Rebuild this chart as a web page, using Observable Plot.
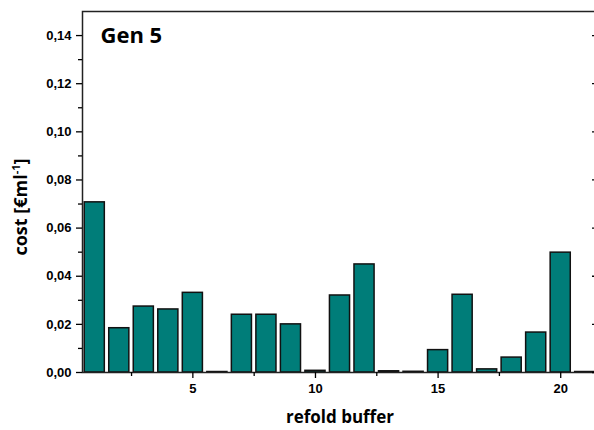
<!DOCTYPE html>
<html><head><meta charset="utf-8">
<script src="https://cdn.jsdelivr.net/npm/d3@7"></script>
<script src="https://cdn.jsdelivr.net/npm/@observablehq/plot@0.6"></script>
<style>
html,body{margin:0;padding:0;background:#fff;overflow:hidden;}
#chart svg{max-width:none !important;display:block;}
</style></head><body><div id="chart"></div>
<script>
const buffers = [1,2,3,4,5,6,7,8,9,10,11,12,13,14,15,16,17,18,19,20,21];
const costs = [0.0707,0.0184,0.0274,0.0262,0.0331,0.0002,0.0240,0.0240,0.0200,0.0007,0.0320,0.0449,0.0005,0.0003,0.0093,0.0323,0.0013,0.0062,0.0166,0.0498,0.0002];
const yMajorTicks = [0,0.02,0.04,0.06,0.08,0.10,0.12,0.14];
const yMinorTicks = [0.01,0.03,0.05,0.07,0.09,0.11,0.13];
const xMajorTicks = [5,10,15,20];
const xMinorTicks = [2.5,7.5,12.5,17.5];
const title = "Gen 5";
const xLabel = "refold buffer";
const yLabelMain = "cost [€ml";
const yLabelSup = "-1";
const yLabelEnd = "]";

const data = buffers.map((b,i)=>({buffer:b, cost:costs[i]}));
const fmt = d => d.toFixed(2).replace(".", ",");
const labelFont = "'Open Sans', 'DejaVu Sans', sans-serif";

const chart = Plot.plot({
  width: 600, height: 430,
  marginLeft: 82, marginRight: 3, marginTop: 11, marginBottom: 58,
  style: {fontFamily: "'Liberation Sans', Arial, sans-serif", fontSize: "13px", fontWeight: "bold", color: "#000", background: "#fff"},
  x: {domain: [0.5, 21.5]},
  y: {domain: [0, 0.15]},
  marks: [
    Plot.rectY(data, {x1: d => d.buffer - 0.41, x2: d => d.buffer + 0.41, y: "cost", fill: "#007d79", stroke: "#111", strokeWidth: 1.5}),
    Plot.frame({stroke: "#222", strokeWidth: 1.5}),
    Plot.axisX({ticks: xMajorTicks, tickSize: 6, tickPadding: 5, tickFormat: d => String(d), label: null, strokeWidth: 1.3}),
    Plot.axisX({ticks: xMinorTicks, tickSize: 4, tickFormat: () => "", label: null, strokeWidth: 1.3}),
    Plot.axisY({ticks: yMajorTicks, tickSize: 6, tickPadding: 5, tickFormat: fmt, label: null, strokeWidth: 1.3}),
    Plot.axisY({ticks: yMinorTicks, tickSize: 4, tickFormat: () => "", label: null, strokeWidth: 1.3}),
    Plot.axisY({anchor: "right", ticks: yMajorTicks, tickSize: -6, tickFormat: () => "", label: null, strokeWidth: 1.3}),
    Plot.text([title], {frameAnchor: "top-left", textAnchor: "start", lineAnchor: "top", dx: 18, dy: 16, fontSize: 22, fontFamily: labelFont, fontWeight: "bold", fill: "#000"}),
    Plot.text([xLabel], {frameAnchor: "bottom", lineAnchor: "middle", dy: 45, fontSize: 17, fontFamily: labelFont, fontWeight: "bold", fill: "#000"}),
    Plot.text([yLabelMain], {frameAnchor: "left", textAnchor: "middle", rotate: -90, dx: -61, dy: 15, fontSize: 18, fontFamily: labelFont, fontWeight: "bold", fill: "#000", className: "ylab"})
  ]
});
document.getElementById("chart").appendChild(chart);

const t = d3.select(chart).select("g.ylab text");
t.text(null);
t.append("tspan").text(yLabelMain);
t.append("tspan").attr("dy", "-7").attr("font-size", "11").text(yLabelSup);
t.append("tspan").attr("dy", "7").text(yLabelEnd);
</script></body></html>
